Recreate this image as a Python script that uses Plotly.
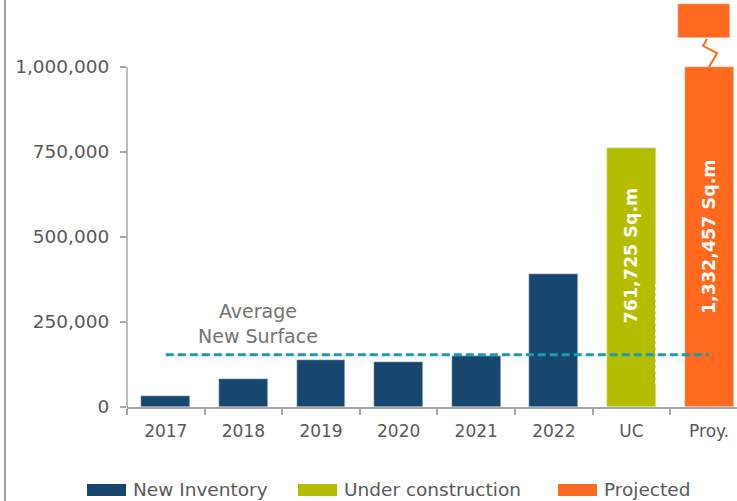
import plotly.graph_objects as go

# ---------------- data ----------------
categories = ['2017', '2018', '2019', '2020', '2021', '2022', 'UC', 'Proy.']
inventory_years = ['2017', '2018', '2019', '2020', '2021', '2022']
new_inventory = [31500, 82000, 137000, 131000, 150000, 391000]
under_construction = 761725
projected = 1332457
axis_break = 1000000              # projected bar is cut at this value
break_piece = [1085000, 1185000]  # upper stub drawn above the break
y_ticks = [0, 250000, 500000, 750000, 1000000]
average_new_surface = sum(new_inventory) / len(new_inventory)

C_BLUE = '#17476F'
C_GREEN = '#B5BD00'
C_ORANGE = '#FF6A1F'
C_TEAL = '#1A9BB5'
C_AXIS = '#A6A6A6'
C_TEXT = '#595959'
FONT = 'DejaVu Sans'

W, H = 737, 501
ML, MR, MT, MB = 127, 0, 0, 94
X_RANGE = [-0.5, 7.36]
Y_RANGE = [0, axis_break * 407 / 340]

plot_w = W - ML - MR
plot_h = H - MT - MB


def px_x(px):
    return (px - ML) / plot_w


def px_y(py):
    return (H - MB - py) / plot_h


def dx(v):
    return (v - X_RANGE[0]) / (X_RANGE[1] - X_RANGE[0])


def dy(v):
    return (v - Y_RANGE[0]) / (Y_RANGE[1] - Y_RANGE[0])


BAR_W = 0.63
fig = go.Figure()

fig.add_trace(go.Bar(x=inventory_years, y=new_inventory, marker_color=C_BLUE,
                     width=BAR_W, name='New Inventory', showlegend=False))
fig.add_trace(go.Bar(x=['UC'], y=[under_construction], marker_color=C_GREEN,
                     width=BAR_W, name='Under construction', showlegend=False))
fig.add_trace(go.Bar(x=['Proy.'], y=[min(projected, axis_break)], marker_color=C_ORANGE,
                     width=BAR_W, name='Projected', showlegend=False))
# upper stub of the broken projected bar
fig.add_trace(go.Bar(x=['Proy.'], y=[break_piece[1] - break_piece[0]], base=[break_piece[0]],
                     marker_color=C_ORANGE, width=0.67, offset=-0.40,
                     showlegend=False, hoverinfo='skip'))

# average line
fig.add_trace(go.Scatter(x=[categories[0], categories[-1]],
                         y=[average_new_surface, average_new_surface],
                         mode='lines', line=dict(color=C_TEAL, width=3, dash='8px,4px'),
                         showlegend=False, hoverinfo='skip'))

shapes = []
# y axis line (only up to the break)
shapes.append(dict(type='line', xref='paper', yref='y', x0=0, x1=0, y0=0, y1=axis_break,
                   line=dict(color=C_AXIS, width=1.5)))
# left frame border
shapes.append(dict(type='line', xref='paper', yref='paper', x0=px_x(5), x1=px_x(5),
                   y0=px_y(H), y1=px_y(0), line=dict(color='#7F7F7F', width=1.5)))
# zigzag break mark
zz = [(6.974, 1082000), (6.923, 1062000), (7.103, 1041000), (7.0, axis_break)]
path = 'M ' + ' L '.join(f'{dx(a):.5f},{dy(b):.5f}' for a, b in zz)
shapes.append(dict(type='path', xref='paper', yref='paper', path=path,
                   line=dict(color=C_ORANGE, width=2)))
# white dotted edge on UC bar
shapes.append(dict(type='line', xref='paper', yref='y', x0=dx(6.32), x1=dx(6.32),
                   y0=70000, y1=365000, line=dict(color='white', width=2.5, dash='dot')))

# custom legend
legend_items = [('New Inventory', C_BLUE, 87), ('Under construction', C_GREEN, 298),
                ('Projected', C_ORANGE, 558)]
annotations = []
for label, col, x0 in legend_items:
    shapes.append(dict(type='rect', xref='paper', yref='paper',
                       x0=px_x(x0), x1=px_x(x0 + 39), y0=px_y(496), y1=px_y(484),
                       fillcolor=col, line=dict(width=0)))
    annotations.append(dict(text=label, xref='paper', yref='paper', x=px_x(x0 + 44),
                            y=px_y(489), xanchor='left', yanchor='middle', showarrow=False,
                            font=dict(family=FONT, size=18.5, color=C_TEXT)))

annotations.append(dict(text='Average<br>New Surface', xref='paper', yref='paper',
                        x=px_x(258), y=px_y(323), xanchor='center', yanchor='middle',
                        showarrow=False, align='center',
                        font=dict(family=FONT, size=19, color='#737373')))
annotations.append(dict(text='<b>' + f'{under_construction:,} Sq.m' + '</b>', x='UC', y=447000,
                        textangle=-90, showarrow=False,
                        font=dict(family=FONT, size=17.5, color='white')))
annotations.append(dict(text='<b>' + f'{projected:,} Sq.m' + '</b>', x='Proy.', y=500000,
                        textangle=-90, showarrow=False,
                        font=dict(family=FONT, size=17.5, color='white')))

fig.update_layout(
    width=W, height=H,
    margin=dict(l=ML, r=MR, t=MT, b=MB, pad=0),
    paper_bgcolor='white', plot_bgcolor='white',
    barmode='overlay', bargap=0,
    showlegend=False,
    font=dict(family=FONT, color=C_TEXT),
    shapes=shapes, annotations=annotations,
    xaxis=dict(type='category', categoryorder='array', categoryarray=categories,
               range=X_RANGE, showline=True, linecolor=C_AXIS, linewidth=1.5,
               ticks='outside', tickson='boundaries', ticklen=6, tickcolor=C_AXIS,
               tickwidth=1.5, showgrid=False, zeroline=False, ticklabelstandoff=8,
               tickfont=dict(family=FONT, size=17, color=C_TEXT)),
    yaxis=dict(range=Y_RANGE, tickvals=y_ticks, tickformat=',', showline=False,
               ticks='outside', ticklen=6, tickcolor=C_AXIS, tickwidth=1.5,
               showgrid=False, zeroline=False, ticklabelstandoff=7,
               tickfont=dict(family=FONT, size=18.5, color=C_TEXT)),
)

fig.write_html('out.html', config={'displayModeBar': False},
               post_script="document.body.style.margin='0';document.body.style.overflow='hidden';")
